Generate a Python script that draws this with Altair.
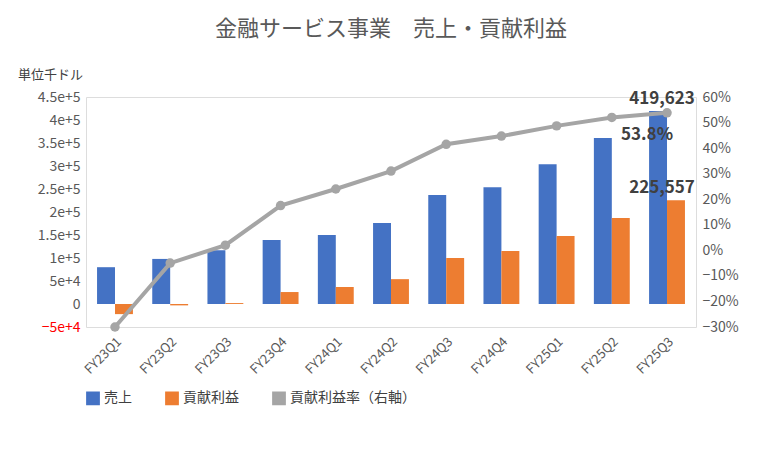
import altair as alt
import pandas as pd

quarters = ["FY23Q1","FY23Q2","FY23Q3","FY23Q4","FY24Q1","FY24Q2","FY24Q3","FY24Q4","FY25Q1","FY25Q2","FY25Q3"]
sales = [80000, 98000, 117000, 139000, 150000, 176000, 237000, 254000, 304000, 361000, 419623]
profit = [-22000, -3000, 2000, 26000, 37000, 54000, 100000, 115000, 148000, 187000, 225557]
ratio = [-0.30, -0.05, 0.02, 0.175, 0.24, 0.31, 0.415, 0.447, 0.487, 0.52, 0.538]

rows = []
for q, s, p in zip(quarters, sales, profit):
    rows.append({"q": q, "series": "売上", "v": s})
    rows.append({"q": q, "series": "貢献利益", "v": p})
bars_df = pd.DataFrame(rows)
line_df = pd.DataFrame({"q": quarters, "r": ratio, "series": "貢献利益率（右軸）"})
last_df = pd.DataFrame({"q": ["FY25Q3", "FY25Q3"], "v": [419623, 225557], "t": ["419,623", "225,557"]})

F = "Noto Sans CJK JP"
color = alt.Color("series:N", title=None,
                  scale=alt.Scale(domain=["売上", "貢献利益", "貢献利益率（右軸）"],
                                  range=["#4472C4", "#ED7D31", "#A5A5A5"]),
                  sort=["売上", "貢献利益", "貢献利益率（右軸）"],
                  legend=alt.Legend(orient="bottom", direction="horizontal", labelFontSize=14,
                                    labelColor="#404040", symbolType="square", symbolSize=150,
                                    columnPadding=30, labelFont=F, offset=14))
xenc = alt.X("q:N", sort=quarters, title=None,
             scale=alt.Scale(paddingInner=0.35, paddingOuter=0.2),
             axis=alt.Axis(labelAngle=-45, labelFontSize=13, labelColor="#595959", ticks=False,
                           domain=False, labelPadding=8))

yl = alt.Y("v:Q", title=None,
           scale=alt.Scale(domain=[-50000, 450000], nice=False, zero=False),
           axis=alt.Axis(values=list(range(-50000, 450001, 50000)), format=",", grid=False,
                         domain=False, ticks=False, labelFontSize=14, labelPadding=6,
                         labelColor={"expr": "datum.value < 0 ? '#FF0000' : '#595959'"}))
yr = alt.Y("r:Q", title=None, scale=alt.Scale(domain=[-0.3, 0.6], nice=False, zero=False),
           axis=alt.Axis(orient="right", format=".0%", values=[i / 10 for i in range(-3, 7)], grid=False,
                         domain=False, ticks=False, labelFontSize=14, labelColor="#595959", labelPadding=6))

bars = alt.Chart(bars_df).mark_bar().encode(
    x=xenc, xOffset=alt.XOffset("series:N", sort=["売上", "貢献利益"]), y=yl, color=color)
bar_labels = alt.Chart(last_df).mark_text(fontSize=17, fontWeight="bold", color="#404040",
                                          dy=-12, dx=-5, font=F).encode(
    x=alt.X("q:N", sort=quarters), y=yl, text="t:N")

line = alt.Chart(line_df).mark_line(color="#A5A5A5", strokeWidth=4,
                                    point=alt.OverlayMarkDef(color="#A5A5A5", size=90, filled=True)).encode(
    x=alt.X("q:N", sort=quarters), y=yr, color=color)
rl = alt.Chart(line_df.tail(1)).mark_text(fontSize=17, fontWeight="bold", color="#404040",
                                          dy=22, dx=-20, font=F).encode(
    x=alt.X("q:N", sort=quarters), y=yr, text=alt.Text("r:Q", format=".1%"))
unit = alt.Chart(pd.DataFrame({"t": ["単位千ドル"]})).mark_text(
    align="left", fontSize=13, color="#404040", font=F).encode(
    x=alt.value(-68), y=alt.value(-22), text="t:N")

left = alt.layer(bars, bar_labels, unit)
right = alt.layer(line, rl)
chart = alt.layer(left, right).resolve_scale(y="independent", color="shared").properties(
    width=610, height=230,
    title=alt.Title("金融サービス事業　売上・貢献利益", fontSize=22, color="#595959",
                    font=F, fontWeight="normal", offset=28),
    padding={"left": 10, "top": 10, "right": 10, "bottom": 10},
).configure_view(stroke=None).configure_axis(grid=False, domain=False).configure(font=F)

chart.save("out.html", embed_options={"renderer": "svg", "actions": False})
